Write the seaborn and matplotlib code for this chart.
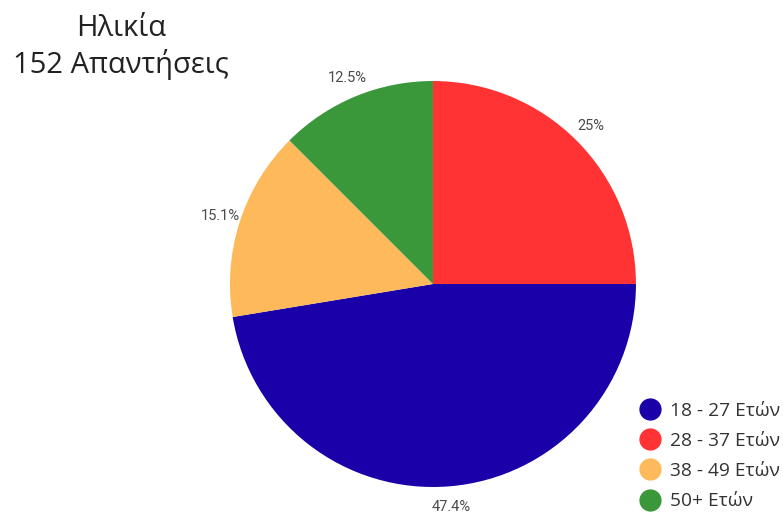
import matplotlib
matplotlib.use("Agg")
import matplotlib.pyplot as plt
from matplotlib.lines import Line2D
import seaborn as sns

# Age groups of the survey respondents (order as drawn clockwise from the top)
categories = ["28 - 37 Ετών", "18 - 27 Ετών", "38 - 49 Ετών", "50+ Ετών"]
shares = [25.0, 47.4, 15.1, 12.5]
colors = ["#FF3333", "#1A00A8", "#FDB95A", "#3A973A"]

# Legend lists the groups in ascending age order
legend_order = ["18 - 27 Ετών", "28 - 37 Ετών", "38 - 49 Ετών", "50+ Ετών"]

title_lines = ["Ηλικία", "152 Απαντήσεις"]

sns.set_theme(style="white")
plt.rcParams["font.family"] = ["Open Sans", "DejaVu Sans"]

fig = plt.figure(figsize=(7.83, 5.16), dpi=100)
ax = fig.add_axes([0.2937, 0.0562, 0.5185, 0.7868])

palette = sns.color_palette(colors)
wedges, texts = ax.pie(
    shares,
    colors=palette,
    startangle=90,
    counterclock=False,
    radius=1.0,
    labels=[f"{v:g}%" for v in shares],
    labeldistance=1.1,
    textprops=dict(fontsize=10.5, color="#4a4a4a", family=["Roboto", "DejaVu Sans"]),
    wedgeprops=dict(linewidth=0),
)
for t in texts:
    t.set_horizontalalignment("center")
    t.set_verticalalignment("center")
ax.set_xlim(-1, 1)
ax.set_ylim(-1, 1)
ax.set_aspect("equal")
ax.axis("off")

# Title in the top-left corner
fig.text(121 / 783, 1 - 28 / 516, title_lines[0], ha="center", va="center",
         fontsize=21, color="#222222")
fig.text(121 / 783, 1 - 65 / 516, title_lines[1], ha="center", va="center",
         fontsize=21, color="#222222")

color_map = dict(zip(categories, colors))
handles = [
    Line2D([0], [0], marker="o", linestyle="", markersize=15,
           markerfacecolor=color_map[c], markeredgecolor=color_map[c])
    for c in legend_order
]
leg = fig.legend(
    handles, legend_order,
    loc="upper left", bbox_to_anchor=(633 / 783, 1 - 394 / 516),
    frameon=False, fontsize=13.8, handlelength=1.0, handletextpad=0.55,
    labelspacing=0.64, borderaxespad=0, labelcolor="#333333",
)

fig.savefig("out.png", dpi=100, facecolor="white")
